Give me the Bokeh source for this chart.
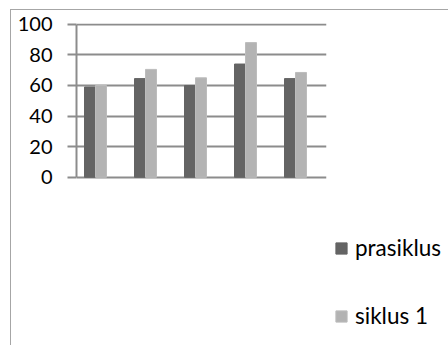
from bokeh.plotting import figure
from bokeh.models import Range1d, Legend, LegendItem, ColumnDataSource, FixedTicker
from bokeh.embed import file_html
from bokeh.resources import INLINE

categories = [1, 2, 3, 4, 5]
prasiklus = [59, 64.5, 60, 74, 64.5]
siklus1 = [60, 70.5, 65, 88, 68.5]
y_ticks = [0, 20, 40, 60, 80, 100]
series_names = ["prasiklus", "siklus 1"]

FONT = "Lato"
GRID = "#8c8c8c"
BORDER = "#a6a6a6"

src = ColumnDataSource(dict(
    x1=[c - 0.11 for c in categories],
    x2=[c + 0.11 for c in categories],
    a=prasiklus, b=siklus1,
))

p = figure(frame_width=250, frame_height=322, output_backend="svg", toolbar_location=None,
           x_range=Range1d(0.62, 5.62), y_range=Range1d(-109.96, 100.5),
           min_border_left=65, min_border_right=122, min_border_top=13, min_border_bottom=0)
p.margin = (9, 0, 0, 10)
p.styles = {"border-top": "1px solid " + BORDER, "border-left": "1px solid " + BORDER}
p.outline_line_color = None
p.background_fill_color = "white"
p.border_fill_color = "white"

r1 = p.vbar(x="x1", top="a", width=0.22, bottom=0, source=src,
            fill_color="#646464", line_color="#646464")
r2 = p.vbar(x="x2", top="b", width=0.22, bottom=0, source=src,
            fill_color="#b3b3b3", line_color="#bcbcbc")

p.xaxis.visible = False
p.xgrid.visible = False
p.ygrid.grid_line_color = GRID
p.ygrid.grid_line_width = 2
p.yaxis.ticker = FixedTicker(ticks=y_ticks)
p.yaxis.bounds = (0, 100)
p.yaxis.minor_tick_line_color = None
p.yaxis.major_tick_in = 0
p.yaxis.major_tick_out = 9
p.yaxis.major_tick_line_color = GRID
p.yaxis.major_tick_line_width = 2
p.yaxis.axis_line_color = GRID
p.yaxis.axis_line_width = 2
p.yaxis.major_label_standoff = 15
p.yaxis.major_label_text_font = FONT
p.yaxis.major_label_text_font_size = "20px"
p.yaxis.major_label_text_color = "black"

legend = Legend(items=[LegendItem(label=series_names[0], renderers=[r1]),
                       LegendItem(label=series_names[1], renderers=[r2])],
                location=(8, 16))
legend.padding = 0
legend.margin = 0
legend.border_line_color = None
legend.background_fill_alpha = 0
legend.glyph_width = 14
legend.glyph_height = 14
legend.label_height = 14
legend.spacing = 41
legend.label_standoff = 7
legend.label_text_font = FONT
legend.label_text_font_size = "22.5px"
legend.label_text_color = "black"
p.add_layout(legend, "right")

open("out.html", "w").write(file_html(p, INLINE))
